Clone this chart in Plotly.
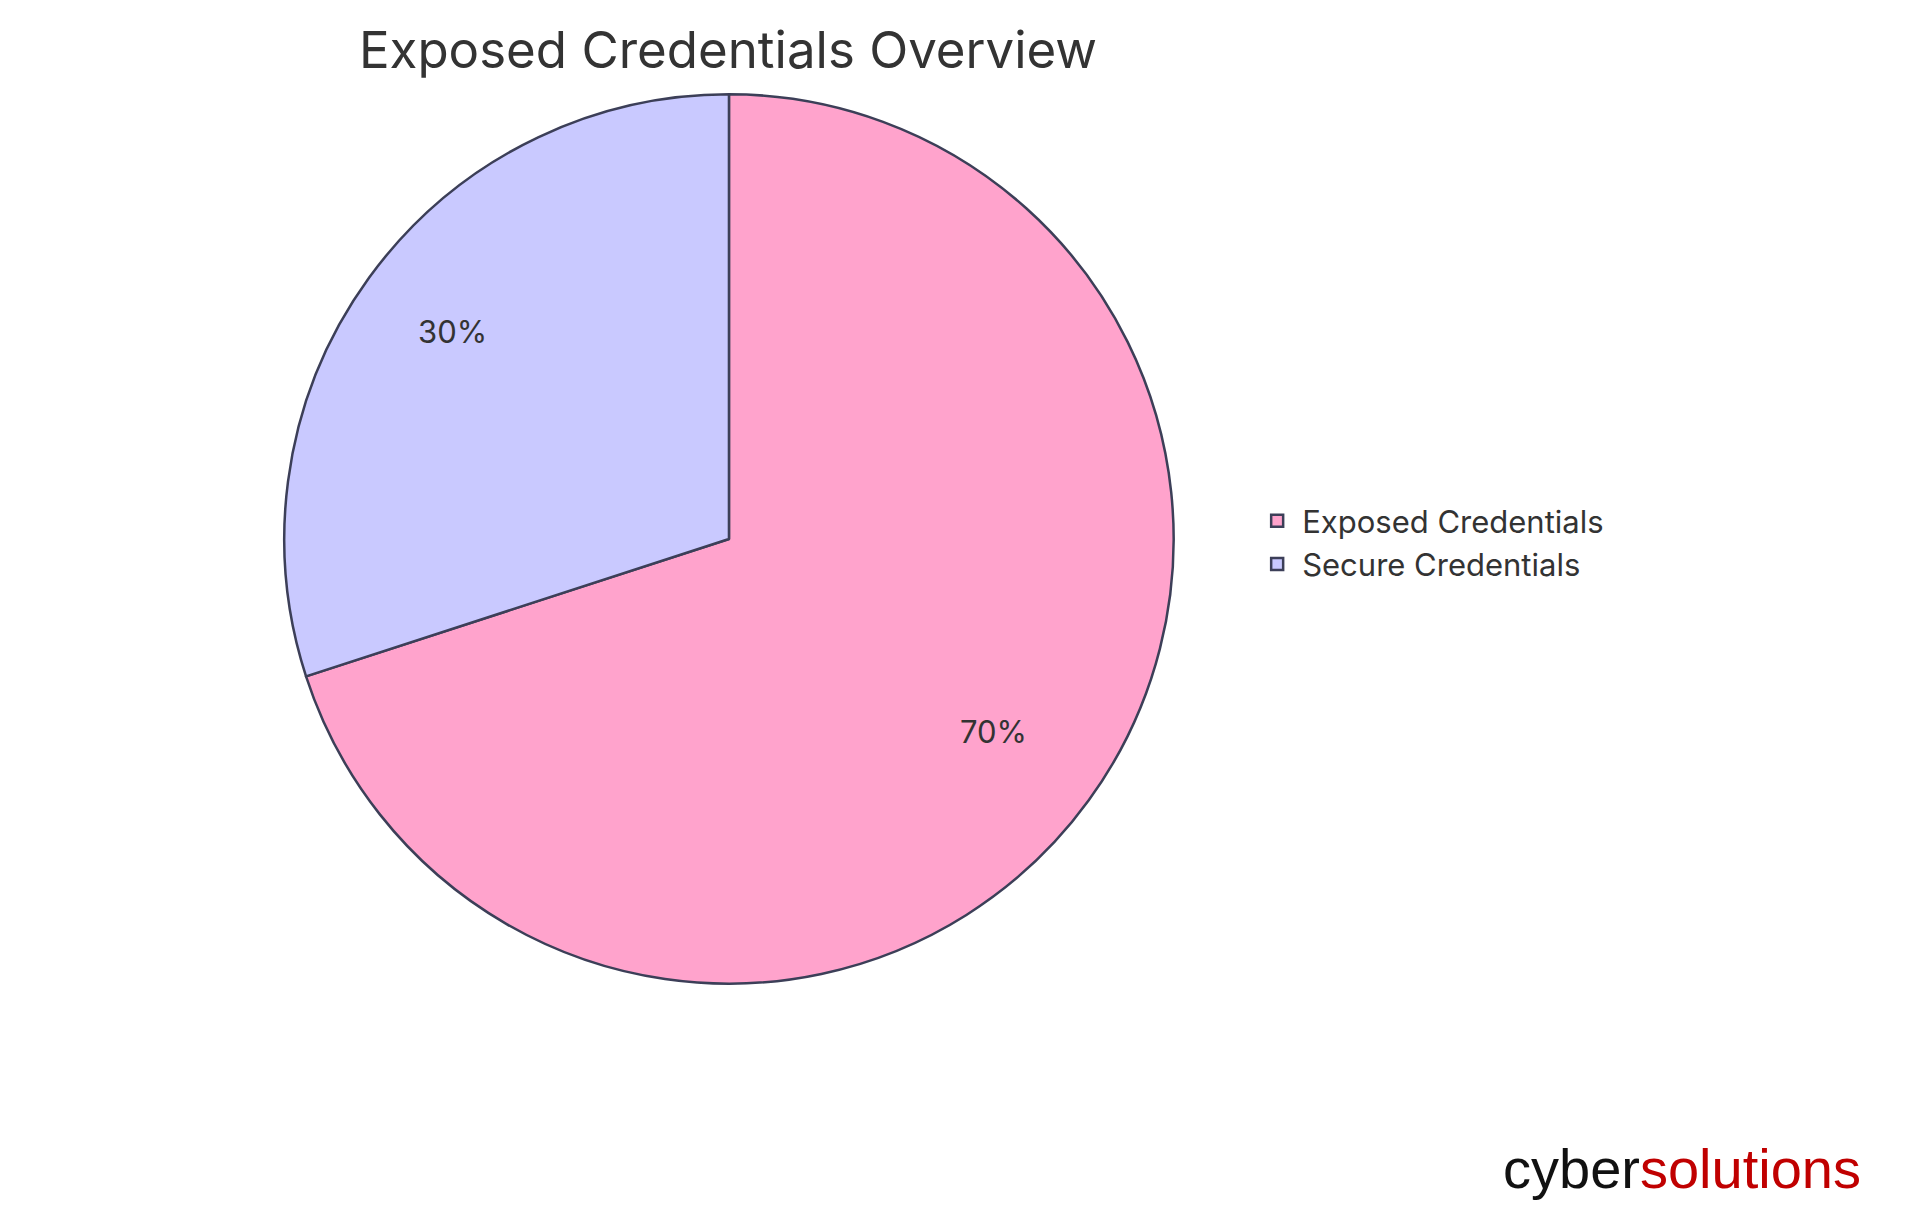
import math
import plotly.graph_objects as go

labels = ["Exposed Credentials", "Secure Credentials"]
values = [70, 30]
colors = ["#FFA3CC", "#C9C9FF"]

W, H = 1920, 1215
dx = [0.1437, 0.6073]
dy = [0.197, 0.929]
label_radius = [0.735, 0.87]  # radial placement of the percent labels (style)

fig = go.Figure(go.Pie(
    labels=labels, values=values, sort=False, direction="clockwise", rotation=0,
    marker=dict(colors=colors, line=dict(color="#3C3F58", width=2.5)),
    textinfo="none",
    domain=dict(x=dx, y=dy),
    hoverinfo="label+percent",
))

# percentage labels placed at slice mid-angles, derived from the values
cx = (dx[0] + dx[1]) / 2 * W
cy = (dy[0] + dy[1]) / 2 * H
R0 = (dx[1] - dx[0]) * W / 2
total = sum(values)
ann = []
start = 0.0
for v, f in zip(values, label_radius):
    mid = (start + v / 2) / total * 2 * math.pi
    start += v
    px = cx + R0 * f * math.sin(mid)
    py = cy + R0 * f * math.cos(mid)
    ann.append(dict(text=f"{round(v / total * 100)}%", x=px / W, y=py / H, xref="paper", yref="paper",
                    showarrow=False, font=dict(size=31, color="#333333", family="Inter")))

ann.append(dict(
    text="<span style='color:#111111'>cyber</span><span style='color:#C00000'>solutions</span>",
    x=1855 / W, y=1 - 1160 / H, xref="paper", yref="paper", xanchor="right", yanchor="middle",
    showarrow=False, font=dict(size=56, family="Liberation Sans Narrow, Liberation Sans")))

fig.update_layout(
    width=W, height=H, paper_bgcolor="white", plot_bgcolor="white",
    margin=dict(l=0, r=0, t=0, b=0),
    font=dict(family="Inter", color="#333333"),
    title=dict(text="Exposed Credentials Overview", x=720 / W, xanchor="center",
               y=1 - 42 / H, yanchor="middle", font=dict(size=51, color="#333333")),
    legend=dict(x=0.648, y=0.56, xanchor="left", yanchor="middle",
                font=dict(size=31, color="#333333"), itemwidth=40, tracegroupgap=12),
    annotations=ann,
)
fig.write_html("out.html")
